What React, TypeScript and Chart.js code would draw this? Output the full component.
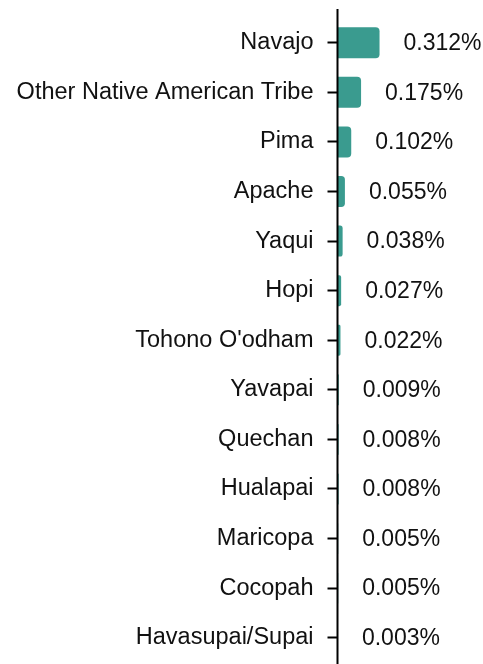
import React, { useEffect, useRef } from "react";
import { Chart, registerables } from "chart.js";

Chart.register(...registerables);

const tribes = [
  "Navajo",
  "Other Native American Tribe",
  "Pima",
  "Apache",
  "Yaqui",
  "Hopi",
  "Tohono O'odham",
  "Yavapai",
  "Quechan",
  "Hualapai",
  "Maricopa",
  "Cocopah",
  "Havasupai/Supai",
];

const shares = [0.312, 0.175, 0.102, 0.055, 0.038, 0.027, 0.022, 0.009, 0.008, 0.008, 0.005, 0.005, 0.003];

const shareLabels = ["0.312%", "0.175%", "0.102%", "0.055%", "0.038%", "0.027%", "0.022%", "0.009%", "0.008%", "0.008%", "0.005%", "0.005%", "0.003%"];

const FONT = '"Liberation Sans", Arial, Helvetica, sans-serif';
const TICK_SIZE = 23.5;
const LABEL_SIZE = 23;
const TEXT_COLOR = "#111";
const BAR_COLOR = "#3a9b8f";

export default function App() {
  const ref = useRef<HTMLCanvasElement | null>(null);

  useEffect(() => {
    if (!ref.current) return;

    const axisLine = {
      id: "axisLine",
      afterDatasetsDraw(chart: any) {
        const ctx = chart.ctx;
        const x = chart.chartArea.left;
        ctx.save();
        ctx.strokeStyle = "#000";
        ctx.lineWidth = 2;
        ctx.beginPath();
        ctx.moveTo(x, 9);
        ctx.lineTo(x, chart.height);
        ctx.stroke();
        ctx.restore();
      },
    };

    const valueLabels = {
      id: "valueLabels",
      afterDatasetsDraw(chart: any) {
        const ctx = chart.ctx;
        const meta = chart.getDatasetMeta(0);
        ctx.save();
        ctx.font = `${LABEL_SIZE}px ${FONT}`;
        ctx.fillStyle = TEXT_COLOR;
        ctx.textAlign = "left";
        ctx.textBaseline = "middle";
        meta.data.forEach((bar: any, i: number) => {
          ctx.fillText(shareLabels[i], bar.x + 24, bar.y + 1);
        });
        ctx.restore();
      },
    };

    const chart = new Chart(ref.current, {
      type: "bar",
      data: {
        labels: tribes,
        datasets: [
          {
            data: shares,
            backgroundColor: BAR_COLOR,
            borderRadius: 4,
            borderSkipped: "start",
            barPercentage: 0.625,
            categoryPercentage: 1,
          },
        ],
      },
      options: {
        indexAxis: "y",
        animation: false,
        responsive: false,
        maintainAspectRatio: false,
        layout: { padding: { top: 18, bottom: 1.5, left: 0, right: 0 } },
        plugins: {
          legend: { display: false },
          tooltip: { enabled: false },
        },
        scales: {
          x: {
            display: false,
            min: 0,
            max: 1.08,
          },
          y: {
            afterFit(scale: any) {
              scale.width = 337.5;
              scale.paddingTop = 0;
              scale.paddingBottom = 0;
            },
            border: { display: false },
            grid: {
              display: true,
              drawOnChartArea: false,
              offset: false,
              tickLength: 10,
              tickWidth: 2,
              tickColor: "#000",
            },
            ticks: {
              padding: 14,
              color: TEXT_COLOR,
              font: { family: FONT, size: TICK_SIZE },
              autoSkip: false,
            },
          },
        },
      },
      plugins: [axisLine, valueLabels],
    });

    return () => chart.destroy();
  }, []);

  return (
    <div style={{ position: "absolute", left: 0, top: 0, width: 483, height: 664 }}>
      <canvas ref={ref} width={483} height={664} style={{ display: "block" }} />
    </div>
  );
}
